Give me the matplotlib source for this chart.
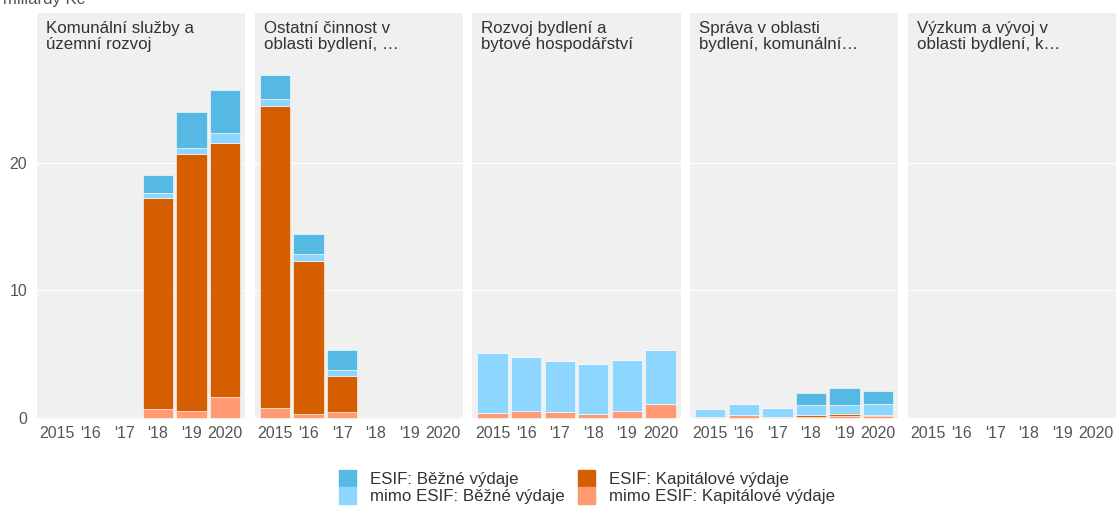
import numpy as np
import matplotlib
matplotlib.use('Agg')
import matplotlib.pyplot as plt
from matplotlib.patches import Patch

plt.rcParams['font.family'] = ['Liberation Sans', 'DejaVu Sans']

years = ['2015', "'16", "'17", "'18", "'19", '2020']
panels = [
    'Komunální služby a\núzemní rozvoj',
    'Ostatní činnost v\noblasti bydlení, …',
    'Rozvoj bydlení a\nbytové hospodářství',
    'Správa v oblasti\nbydlení, komunální…',
    'Výzkum a vývoj v\noblasti bydlení, k…',
]

# stacked bottom -> top
mimo_kap = [
    [0.05, 0.0, 0.0, 0.7, 0.55, 1.65],
    [0.8, 0.3, 0.45, 0.0, 0.0, 0.0],
    [0.37, 0.52, 0.45, 0.34, 0.57, 1.12],
    [0.05, 0.23, 0.1, 0.1, 0.15, 0.15],
    [0, 0, 0, 0, 0, 0],
]
esif_kap = [
    [0.0, 0.0, 0.0, 16.55, 20.15, 19.9],
    [23.7, 12.0, 2.85, 0.0, 0.0, 0.0],
    [0, 0, 0, 0, 0, 0],
    [0.0, 0.0, 0.0, 0.15, 0.15, 0.05],
    [0, 0, 0, 0, 0, 0],
]
mimo_bez = [
    [0.0, 0.1, 0.1, 0.4, 0.5, 0.8],
    [0.5, 0.55, 0.5, 0.1, 0.1, 0.1],
    [4.7, 4.28, 3.99, 3.92, 4.0, 4.18],
    [0.65, 0.87, 0.7, 0.77, 0.72, 0.9],
    [0, 0, 0, 0, 0, 0],
]
esif_bez = [
    [0.0, 0.0, 0.0, 1.4, 2.8, 3.35],
    [1.9, 1.55, 1.55, 0.0, 0.0, 0.0],
    [0, 0, 0, 0, 0, 0],
    [0.0, 0.0, 0.0, 0.94, 1.31, 1.04],
    [0, 0, 0, 0, 0, 0],
]

series = [
    ('mimo ESIF: Kapitálové výdaje', mimo_kap, '#FF9A72'),
    ('ESIF: Kapitálové výdaje', esif_kap, '#D55E00'),
    ('mimo ESIF: Běžné výdaje', mimo_bez, '#8DD6FF'),
    ('ESIF: Běžné výdaje', esif_bez, '#56B9E3'),
]

W, H = 1116, 507
fig = plt.figure(figsize=(W / 100, H / 100), dpi=100)
left0, pw, gap = 37, 208.2, 9.5
top, bot = 13, 419

x = np.arange(len(years))
for i, title in enumerate(panels):
    ax = fig.add_axes([(left0 + i * (pw + gap)) / W, 1 - bot / H, pw / W, (bot - top) / H])
    ax.set_facecolor('#F0F0F0')
    for s in ax.spines.values():
        s.set_visible(False)
    for g in [0, 10, 20]:
        ax.axhline(g, color='white', lw=0.9, zorder=1)
    base = np.zeros(len(years))
    for name, data, col in series:
        vals = np.array(data[i])
        ax.bar(x, vals, 0.9, bottom=base, color=col, edgecolor='#ffffff', linewidth=0.4, zorder=2)
        base += vals
    ax.set_xlim(-0.6, 5.6)
    ax.set_ylim(-0.08, 31.76)
    ax.set_xticks(x)
    ax.set_xticklabels(years, fontsize=11.5, color='#555555')
    ax.tick_params(axis='x', length=0, pad=5)
    if i == 0:
        ax.set_yticks([0, 10, 20])
        ax.set_yticklabels(['0', '10', '20'], fontsize=11.5, color='#555555')
        ax.tick_params(axis='y', length=0, pad=7)
    else:
        ax.set_yticks([])
    ax.text(9 / pw, 1 - 8 / (bot - top), title, transform=ax.transAxes, ha='left', va='top',
            fontsize=12.2, color='#333333', linespacing=1.08)

fig.text(3 / W, 1 - 4 / H, 'miliardy Kč', fontsize=12, color='#555555', va='baseline', ha='left')

handles = [
    Patch(color='#56B9E3', label='ESIF: Běžné výdaje'),
    Patch(color='#8DD6FF', label='mimo ESIF: Běžné výdaje'),
    Patch(color='#D55E00', label='ESIF: Kapitálové výdaje'),
    Patch(color='#FF9A72', label='mimo ESIF: Kapitálové výdaje'),
]
leg = fig.legend(handles=handles, ncol=2, loc='center', bbox_to_anchor=(587 / W, 1 - 487 / H),
                 frameon=False, fontsize=12.2, handlelength=1.0, handleheight=1.15,
                 handletextpad=0.8, labelspacing=0.0, columnspacing=0.8, borderpad=0.2)
for t in leg.get_texts():
    t.set_color('#333333')

fig.savefig('out.png', dpi=100)
